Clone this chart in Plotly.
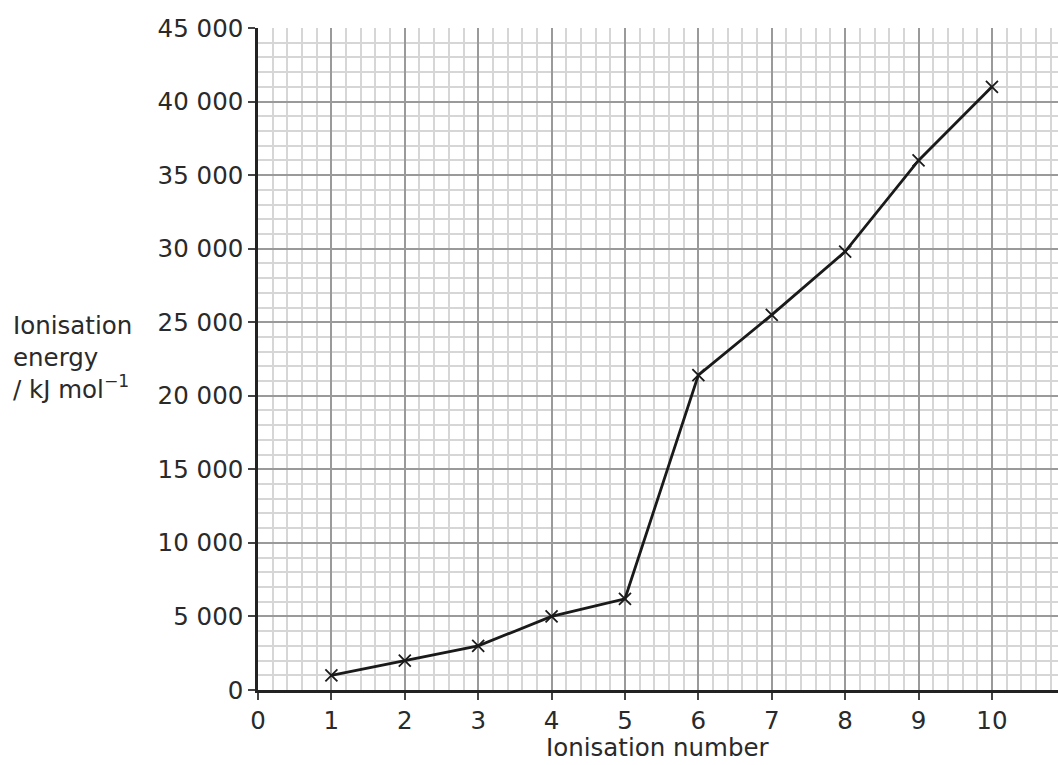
import plotly.graph_objects as go

ionisation_number = [1, 2, 3, 4, 5, 6, 7, 8, 9, 10]
ionisation_energy = [1000, 2000, 3000, 5000, 6200, 21400, 25500, 29800, 36000, 41000]

x_tick_values = [0, 1, 2, 3, 4, 5, 6, 7, 8, 9, 10]
x_tick_labels = ["0", "1", "2", "3", "4", "5", "6", "7", "8", "9", "10"]
y_tick_values = [0, 5000, 10000, 15000, 20000, 25000, 30000, 35000, 40000, 45000]
y_tick_labels = ["0", "5 000", "10 000", "15 000", "20 000", "25 000", "30 000", "35 000", "40 000", "45 000"]

FONT = "DejaVu Sans, Liberation Sans, Arial, sans-serif"
TXT = "#2a2a2a"
FS = 24.5

fig = go.Figure()
fig.add_trace(go.Scatter(
    x=ionisation_number, y=ionisation_energy,
    mode="lines+markers",
    line=dict(color="#1a1a1a", width=2.8),
    marker=dict(symbol="x-thin-open", size=12, line=dict(color="#1a1a1a", width=1.8)),
    showlegend=False,
))

fig.update_layout(
    width=1058, height=765,
    margin=dict(l=258, r=0, t=28, b=75),
    paper_bgcolor="white", plot_bgcolor="white",
    font=dict(family=FONT, size=FS, color=TXT),
    xaxis=dict(
        range=[0, 10.9],
        tickvals=x_tick_values, ticktext=x_tick_labels,
        showline=True, linecolor="#222222", linewidth=2.5,
        ticks="outside", ticklen=7, tickcolor="#444444", tickwidth=1.5,
        showgrid=True, gridcolor="#9a9a9a", gridwidth=1.5,
        zeroline=False,
        minor=dict(dtick=0.2, showgrid=True, gridcolor="#d6d6d6", gridwidth=1.5),
        tickfont=dict(size=FS, family=FONT, color=TXT),
        automargin=False,
    ),
    yaxis=dict(
        range=[0, 45000],
        tickvals=y_tick_values, ticktext=y_tick_labels,
        showline=True, linecolor="#222222", linewidth=2.5,
        ticks="outside", ticklen=7, tickcolor="#444444", tickwidth=1.5,
        showgrid=True, gridcolor="#9a9a9a", gridwidth=1.5,
        zeroline=False,
        minor=dict(dtick=1000, showgrid=True, gridcolor="#d6d6d6", gridwidth=1.5),
        tickfont=dict(size=FS, family=FONT, color=TXT),
        automargin=False,
    ),
)

# x-axis title
fig.add_annotation(
    text="Ionisation number",
    xref="paper", yref="paper", x=0.5, y=-0.0875,
    xanchor="center", yanchor="middle", showarrow=False,
    font=dict(size=FS, family=FONT, color=TXT),
)

# y-axis title (horizontal, three lines)
fig.add_annotation(
    text="Ionisation<br>energy<br>/ kJ mol<sup>−1</sup>",
    xref="paper", yref="paper", x=-0.309, y=0.575,
    xanchor="left", yanchor="top", align="left", showarrow=False,
    font=dict(size=FS, family=FONT, color=TXT),
)

fig.write_html(
    "out.html",
    config={"displayModeBar": False},
    post_script="document.body.style.margin='0';document.body.style.overflow='hidden';",
)
